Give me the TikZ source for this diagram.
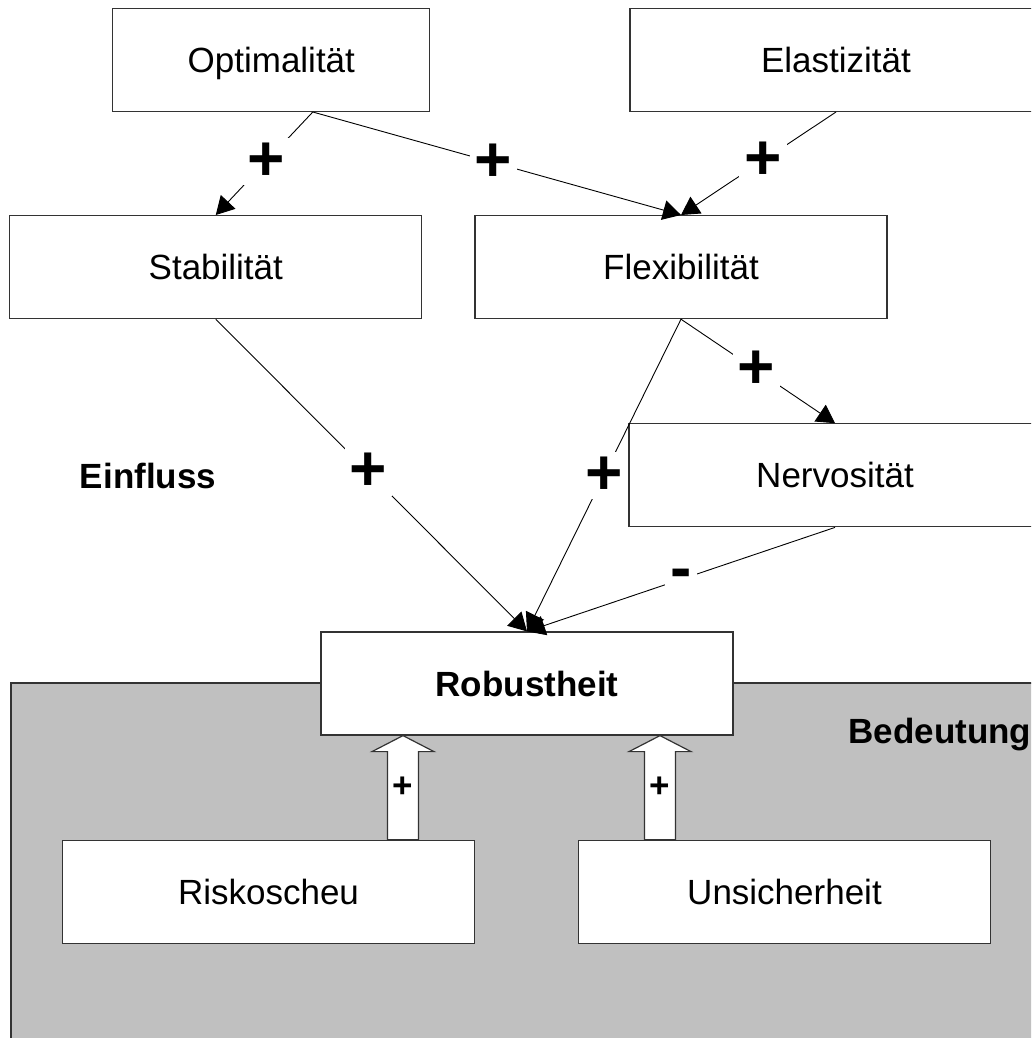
\documentclass[tikz,border=0pt]{standalone}
\usepackage{fontspec}
\setmainfont{Liberation Sans}
\usetikzlibrary{positioning, arrows.meta}

\newcommand{\hollowarrow}[2]{%
	\draw[hollow] ([xshift=-15.5pt]#1) -- ([xshift=-15.5pt, yshift=-16pt]#2) -- ([xshift=-31pt, yshift=-16pt]#2) -- (#2)
		-- ([xshift=31pt, yshift=-16pt]#2) -- ([xshift=15.5pt, yshift=-16pt]#2) -- ([xshift=15.5pt]#1) -- cycle;}

\begin{document}
\begin{tikzpicture}[x=1pt, y=-1pt, node distance=104pt,
		box/.style={draw=black!80, line width=1.2pt, fill=white, minimum width=412pt, minimum height=103pt,
			text height=28pt, text depth=3pt, font=\fontsize{35}{42}\selectfont},
		sign/.style={fill=white, inner sep=5pt, font=\fontsize{64}{76}\selectfont\bfseries},
		small sign/.style={inner sep=0pt, font=\fontsize{35}{42}\selectfont\bfseries},
		heading/.style={font=\fontsize{35}{42}\selectfont\bfseries},
		hollow/.style={draw=black!80, line width=1.2pt, fill=white},
		area/.style={draw=black!80, line width=1.5pt, fill={rgb,255:red,192;green,192;blue,192}},
		link/.style={->, line width=0.9pt},
		>={Triangle[length=18pt, width=20pt]}]
			\useasboundingbox (0,0) rectangle (1031,1038);
			\clip (0,0) rectangle (1031,1038);
			\filldraw[area] (11,683) rectangle (1100,1100);

			\node[box, font=\fontsize{35}{42}\selectfont\bfseries] (robust) at (527,683.5) {Robustheit};
			\node[box, below = of robust, xshift=-258.5pt] (risk) {Riskoscheu};
			\node[box, below = of robust, xshift=257.5pt] (unsich) {Unsicherheit};
			\node[box, above = of robust, xshift=308pt] (nerv) {Nervosität};
			\node[box, above = of nerv, xshift=-154pt] (flex) {Flexibilität};
			\node[box, left = 52pt of flex] (stab) {Stabilität};
			\node[box, minimum width=317pt, above = 103pt of stab, xshift=55.5pt] (opt) {Optimalität};
			\node[box, right = 199pt of opt] (elast) {Elastizität};

			\node[heading] (einfluss) at (148,476) {Einfluss};
			\node[heading, anchor=west] (bedeutung) at (845,735) {Bedeutung};

			\draw[link] ([xshift=41.5pt]opt.south) -- node[sign, pos=0.48] {+} (stab.north);
			\draw[link] ([xshift=41.5pt]opt.south) -- node[sign, pos=0.49] {+} (flex.north);
			\draw[link] (elast.south) -- node[sign, pos=0.47] {+} (flex.north);
			\draw[link] (stab.south) -- node[sign, pos=0.49] {+} (robust.north);
			\draw[link] (flex.south) -- node[sign, pos=0.49] {+} (nerv.north);
			\draw[link] (flex.south) -- node[sign, pos=0.5] {+} (robust.north);
			\draw[link] (nerv.south) -- node[sign, pos=0.5] {-} (robust.north);

			% hollow arrows into the grey part
			\path ([xshift=-124pt]robust.south) coordinate (ra2) (ra2 |- risk.north) coordinate (ra1);
			\path ([xshift=133pt]robust.south) coordinate (ua2) (ua2 |- unsich.north) coordinate (ua1);
			\hollowarrow{ra1}{ra2}
			\hollowarrow{ua1}{ua2}
			\path (ra1) -- node[small sign] (rplus) {+} (ra2);
			\path (ua1) -- node[small sign] (uplus) {+} (ua2);
		\end{tikzpicture}
\end{document}
